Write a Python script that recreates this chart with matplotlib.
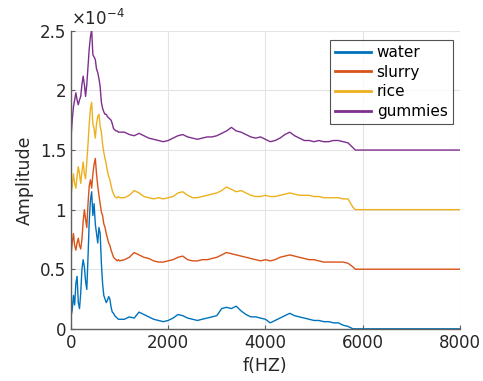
import numpy as np
import matplotlib
matplotlib.use("Agg")
import matplotlib.pyplot as plt
import matplotlib.ticker as mticker

# frequency grid (Hz): fine below 1 kHz, coarser above
freq = np.concatenate([np.arange(0, 1001, 25), np.arange(1100, 5801, 100), [5850, 8000]])

# amplitudes in units of 1e-4
water = [0.10, 0.16, 0.28, 0.20, 0.38, 0.44, 0.22, 0.17, 0.30, 0.50, 0.58, 0.52, 0.40, 0.33,
         0.60, 0.90, 1.08, 1.15, 0.95, 1.05, 0.88, 0.80, 0.72, 0.85, 0.80, 0.55, 0.38, 0.28,
         0.25, 0.22, 0.24, 0.27, 0.25, 0.18, 0.14, 0.13, 0.11, 0.10, 0.09, 0.08, 0.08,
         0.08, 0.10, 0.09, 0.14, 0.12, 0.10, 0.08, 0.07, 0.06, 0.07, 0.09, 0.12, 0.11, 0.09,
         0.08, 0.07, 0.08, 0.09, 0.10, 0.11, 0.17, 0.18, 0.17, 0.19, 0.15, 0.12, 0.10, 0.10,
         0.09, 0.08, 0.05, 0.07, 0.09, 0.11, 0.13, 0.11, 0.10, 0.09, 0.08, 0.07, 0.07, 0.06,
         0.06, 0.05, 0.05, 0.03, 0.02, 0.00, 0.00, 0.00]
slurry = [0.62, 0.72, 0.80, 0.70, 0.66, 0.72, 0.76, 0.70, 0.67, 0.75, 0.90, 1.00, 0.92, 0.85,
          1.05, 1.20, 1.25, 1.18, 1.30, 1.38, 1.43, 1.30, 1.20, 1.12, 1.05, 0.98, 0.95, 0.88,
          0.85, 0.80, 0.76, 0.72, 0.70, 0.66, 0.63, 0.60, 0.59, 0.58, 0.57, 0.58, 0.57,
          0.58, 0.60, 0.64, 0.62, 0.60, 0.59, 0.57, 0.56, 0.56, 0.57, 0.58, 0.60, 0.61, 0.58,
          0.57, 0.57, 0.58, 0.58, 0.59, 0.60, 0.62, 0.64, 0.63, 0.62, 0.61, 0.60, 0.59, 0.58,
          0.57, 0.58, 0.57, 0.58, 0.60, 0.61, 0.62, 0.61, 0.60, 0.59, 0.58, 0.58, 0.57, 0.56,
          0.56, 0.56, 0.56, 0.56, 0.55, 0.52, 0.50, 0.50]
rice = [1.12, 1.20, 1.30, 1.22, 1.18, 1.28, 1.36, 1.30, 1.22, 1.32, 1.40, 1.30, 1.26, 1.40,
        1.55, 1.72, 1.85, 1.90, 1.72, 1.68, 1.60, 1.72, 1.78, 1.80, 1.70, 1.65, 1.55, 1.48,
        1.43, 1.38, 1.32, 1.28, 1.25, 1.20, 1.16, 1.13, 1.11, 1.10, 1.10, 1.11, 1.10,
        1.10, 1.12, 1.16, 1.14, 1.11, 1.10, 1.09, 1.10, 1.09, 1.10, 1.11, 1.14, 1.15, 1.12,
        1.10, 1.10, 1.11, 1.12, 1.13, 1.14, 1.16, 1.19, 1.17, 1.15, 1.16, 1.14, 1.12, 1.11,
        1.11, 1.12, 1.11, 1.11, 1.12, 1.13, 1.14, 1.13, 1.12, 1.12, 1.12, 1.11, 1.11, 1.10,
        1.10, 1.10, 1.10, 1.09, 1.09, 1.02, 1.00, 1.00]
gummies = [1.60, 1.75, 1.86, 1.92, 1.98, 1.92, 1.88, 1.92, 1.95, 2.05, 2.12, 2.05, 1.95, 2.05,
           2.20, 2.35, 2.45, 2.51, 2.30, 2.28, 2.26, 2.18, 2.15, 2.10, 2.03, 1.90, 1.85, 1.82,
           1.80, 1.80, 1.78, 1.77, 1.76, 1.75, 1.72, 1.68, 1.67, 1.66, 1.66, 1.65, 1.65,
           1.65, 1.63, 1.62, 1.64, 1.62, 1.60, 1.59, 1.58, 1.57, 1.58, 1.60, 1.62, 1.63, 1.61,
           1.60, 1.59, 1.60, 1.61, 1.61, 1.62, 1.64, 1.66, 1.69, 1.66, 1.65, 1.63, 1.61, 1.60,
           1.61, 1.59, 1.57, 1.58, 1.60, 1.63, 1.65, 1.62, 1.60, 1.58, 1.58, 1.57, 1.58, 1.57,
           1.57, 1.58, 1.58, 1.57, 1.56, 1.52, 1.50, 1.50]

labels = ["water", "slurry", "rice", "gummies"]
series = [water, slurry, rice, gummies]
COLORS = ["#0072BD", "#D95319", "#EDB120", "#7E2F8E"]

fig = plt.figure(figsize=(4.83, 3.81), dpi=100)
ax = fig.add_axes([0.147, 0.137, 0.805, 0.782])

for vals, lab, col in zip(series, labels, COLORS):
    ax.plot(freq, np.array(vals) * 1e-4, color=col, lw=1.0, label=lab)

ax.set_xlim(0, 8000)
ax.set_ylim(0, 2.5e-4)
ax.set_xticks([0, 2000, 4000, 6000, 8000])
ax.set_yticks(np.arange(0, 2.51e-4, 0.5e-4))
ax.yaxis.set_major_formatter(mticker.FuncFormatter(lambda v, _: f"{v*1e4:g}"))
ax.text(0.0, 1.005, r"$\times10^{-4}$", transform=ax.transAxes, ha="left", va="bottom",
        fontsize=12, color="#262626")

ax.grid(True, color="#e3e3e3", lw=0.8)
ax.set_axisbelow(True)
ax.spines[["top", "right"]].set_visible(False)
for s in ["left", "bottom"]:
    ax.spines[s].set_color("#606060")
    ax.spines[s].set_linewidth(1.0)
ax.tick_params(direction="in", length=3, labelsize=12, colors="#262626")
ax.tick_params(axis="both", color="#606060")

ax.set_xlabel("f(HZ)", fontsize=12.5, color="#262626", labelpad=4)
ax.set_ylabel("Amplitude", fontsize=12.5, color="#262626", labelpad=4)

leg = ax.legend(loc="upper right", bbox_to_anchor=(0.99, 0.98), fontsize=11, frameon=True,
                fancybox=False, edgecolor="#262626", handlelength=2.3, handletextpad=0.4,
                borderpad=0.35, labelspacing=0.3, borderaxespad=0.2)
leg.get_frame().set_linewidth(0.8)
for line in leg.get_lines():
    line.set_linewidth(2.0)

plt.savefig("out.png", dpi=100)
